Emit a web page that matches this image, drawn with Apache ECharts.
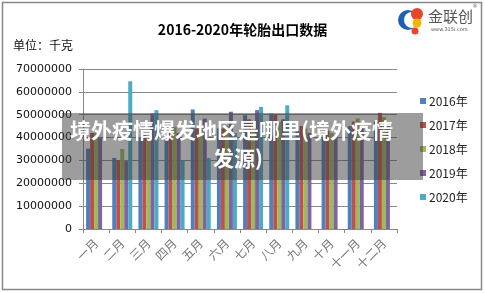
<!DOCTYPE html>
<html><head><meta charset="utf-8">
<script src="https://cdn.jsdelivr.net/npm/echarts@6/dist/echarts.min.js"></script>
<style>html,body{margin:0;padding:0;background:#fff}#c{width:485px;height:293px}</style>
</head><body><div id="c"></div>
<script>
const categories = ['一月','二月','三月','四月','五月','六月','七月','八月','九月','十月','十一月','十二月'];
const seriesNames = ['2016年','2017年','2018年','2019年','2020年'];
const v2016 = [35200000, 31100000, 40000000, 40000000, 52300000, 44000000, 49800000, 50500000, 43000000, 40000000, 45000000, 47000000];
const v2017 = [42000000, 30100000, 41000000, 42000000, 44000000, 44000000, 48000000, 50200000, 45000000, 43000000, 47000000, 50800000];
const v2018 = [42000000, 35000000, 40000000, 44700000, 44000000, 45000000, 47000000, 47000000, 44000000, 42000000, 48400000, 49000000];
const v2019 = [40000000, 29700000, 50500000, 42000000, 48300000, 51300000, 52000000, 48000000, 42000000, 41000000, 44000000, 45000000];
const v2020 = [null, 64600000, 52000000, 30000000, 31000000, 42000000, 53400000, 54100000, null, null, null, null];
const yTicks = [0, 10000000, 20000000, 30000000, 40000000, 50000000, 60000000, 70000000];
const colors = ['#4F81BD','#C0504D','#9BBB59','#8064A2','#4BACC6'];
const allValues = [v2016, v2017, v2018, v2019, v2020];

const chart = echarts.init(document.getElementById('c'), null, {renderer:'canvas'});
const font = '"DejaVu Sans", sans-serif';
const cjk = '"Noto Sans CJK SC", sans-serif';
chart.setOption({
  animation: false,
  color: colors,
  grid: {left: 83, right: 88, top: 69, bottom: 64, containLabel: false},
  title: {
    text: '2016-2020年轮胎出口数据', left: 'center', top: 18,
    textStyle: {fontFamily: cjk, fontSize: 14, fontWeight: 'bold', color: '#000'}
  },
  legend: {
    orient: 'vertical', left: 415, top: 90, itemWidth: 6, itemHeight: 6, itemGap: 12,
    icon: 'rect', data: seriesNames,
    textStyle: {fontFamily: cjk, fontSize: 12, color: '#222', padding: [0,0,0,-2]}
  },
  xAxis: {
    type: 'category', data: categories,
    axisLine: {lineStyle: {color: '#888'}},
    axisTick: {show: true, length: 4, lineStyle: {color: '#888'}},
    axisLabel: {rotate: 45, fontFamily: cjk, fontSize: 12, color: '#777', margin: 12, interval: 0}
  },
  yAxis: {
    type: 'value', min: yTicks[0], max: yTicks[yTicks.length-1], interval: 10000000,
    axisLine: {show: true, lineStyle: {color: '#888'}},
    axisTick: {show: true, length: 4, lineStyle: {color: '#888'}},
    splitLine: {lineStyle: {color: '#888'}},
    axisLabel: {fontFamily: font, fontSize: 11, color: '#111', margin: 11, formatter: v => String(v)}
  },
  series: seriesNames.map((n, i) => ({
    name: n, type: 'bar', data: allValues[i], barWidth: 4, barGap: '0%'
  })),
  graphic: [
    {type: 'rect', shape: {x: 2.5, y: 2.5, width: 479, height: 287}, style: {fill: 'none', stroke: '#888', lineWidth: 1.5}, z: 1},
    {type: 'text', left: 13, top: 39, style: {text: '单位：千克', font: '12px ' + cjk, fill: '#111'}},
    {type: 'group', left: 398, top: 8, children: [
      {type: 'circle', shape: {cx: 10, cy: 14, r: 10}, style: {fill: '#1f5fb5'}},
      {type: 'circle', shape: {cx: 14, cy: 14, r: 8}, style: {fill: '#fff'}},
      {type: 'circle', shape: {cx: 19, cy: 8, r: 6}, style: {fill: '#e8452c'}},
      {type: 'circle', shape: {cx: 19, cy: 17, r: 4.5}, style: {fill: '#f5b400'}},
      {type: 'circle', shape: {cx: 17, cy: 25, r: 3.5}, style: {fill: '#e8452c'}}
    ]},
    {type: 'text', left: 428, top: 9, style: {text: '金联创', font: '15px ' + cjk, fill: '#555'}},
    {type: 'text', left: 431, top: 27, style: {text: 'www.315i.com', font: '5px ' + font, fill: '#555'}},
    {type: 'text', left: 472, top: 3, style: {text: '®', font: '6px ' + font, fill: '#777'}},
    {type: 'rect', shape: {x: 62, y: 113, width: 361, height: 67}, style: {fill: 'rgba(60,60,60,0.5)'}, z: 100},
    {type: 'text', left: 70, top: 120, z: 101, style: {text: '境外疫情爆发地区是哪里(境外疫情', font: 'bold 21px ' + cjk, fill: '#fff'}},
    {type: 'text', left: 213, top: 148, z: 101, style: {text: '发源)', font: 'bold 21px ' + cjk, fill: '#fff'}}
  ]
});
</script></body></html>
